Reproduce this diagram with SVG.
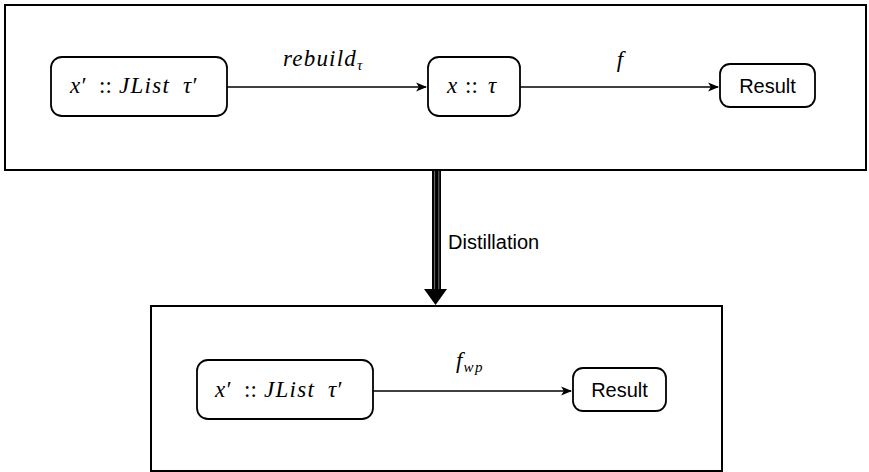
<svg xmlns="http://www.w3.org/2000/svg" width="869" height="472" viewBox="0 0 869 472">
  <style>
    .frame { fill: #ffffff; stroke: #000000; stroke-width: 2; }
    .node { fill: #ffffff; stroke: #000000; stroke-width: 1.8; }
    .math { font-family: "Liberation Serif", "DejaVu Serif", serif; font-style: italic; font-size: 23px; fill: #000000; }
    .up { font-style: normal; }
    .sub { font-size: 15px; }
    .sans { font-family: "Liberation Sans", Arial, sans-serif; font-size: 20px; fill: #000000; }
    .edge { fill: none; stroke: #000000; stroke-width: 1.5; }
  </style>
  <defs>
    <marker id="arrow" viewBox="0 0 10 10" refX="9" refY="5" markerWidth="11" markerHeight="11" markerUnits="userSpaceOnUse" orient="auto">
      <path d="M0,1 L10,5 L0,9 L2.5,5 Z" fill="#000000"/>
    </marker>
  </defs>

  <!-- outer frames -->
  <g id="before">
    <rect class="frame" x="5" y="5" width="861" height="165"/>
  </g>
  <g id="after">
    <rect class="frame" x="151" y="306" width="571" height="165"/>
  </g>

  <!-- top pipeline nodes -->
  <g id="node-jlist">
    <rect class="node" x="51" y="57" width="176" height="59" rx="11"/>
    <text class="math" y="93"><tspan x="70">x′</tspan><tspan class="up" x="99">::</tspan><tspan x="119" letter-spacing="1.3">JList</tspan><tspan x="183">τ′</tspan></text>
  </g>
  <g id="node-x">
    <rect class="node" x="428" y="57" width="92" height="59" rx="11"/>
    <text class="math" y="93"><tspan x="447">x</tspan><tspan class="up" x="465">::</tspan><tspan x="488">τ</tspan></text>
  </g>
  <g id="node-result">
    <rect class="node" x="720" y="64" width="95" height="43" rx="10"/>
    <text class="sans" x="767.5" y="93" text-anchor="middle">Result</text>
  </g>

  <!-- bottom pipeline nodes -->
  <g id="node-jlist-wp">
    <rect class="node" x="197" y="360" width="176" height="59" rx="11"/>
    <text class="math" y="397"><tspan x="215">x′</tspan><tspan class="up" x="244">::</tspan><tspan x="264" letter-spacing="1.3">JList</tspan><tspan x="328">τ′</tspan></text>
  </g>
  <g id="node-result-wp">
    <rect class="node" x="573" y="368" width="93" height="43" rx="10"/>
    <text class="sans" x="619.5" y="397" text-anchor="middle">Result</text>
  </g>

  <!-- connectors -->
  <g id="connectors">
    <line class="edge" x1="227" y1="87" x2="426" y2="87" marker-end="url(#arrow)"/>
    <text class="math" x="283" y="66" letter-spacing="1.2">rebuild<tspan class="sub" dy="4" letter-spacing="0">τ</tspan></text>

    <line class="edge" x1="520" y1="87" x2="718" y2="87" marker-end="url(#arrow)"/>
    <text class="math" x="620" y="67" text-anchor="middle">f</text>

    <line class="edge" x1="373" y1="391" x2="571" y2="391" marker-end="url(#arrow)"/>
    <text class="math" x="456" y="368">f<tspan class="sub" dx="1" dy="4" letter-spacing="1.5">wp</tspan></text>

    <!-- distillation: heavy double shaft with a solid head -->
    <rect x="432" y="171" width="9" height="119" fill="#000000"/>
    <line x1="434.6" y1="171" x2="434.6" y2="289" stroke="#8a8a8a" stroke-width="0.8"/>
    <line x1="438.8" y1="171" x2="438.8" y2="289" stroke="#8a8a8a" stroke-width="0.8"/>
    <path d="M424,289 L447,289 L435.5,305 Z" fill="#000000"/>
    <text class="sans" x="448" y="249">Distillation</text>
  </g>
</svg>
